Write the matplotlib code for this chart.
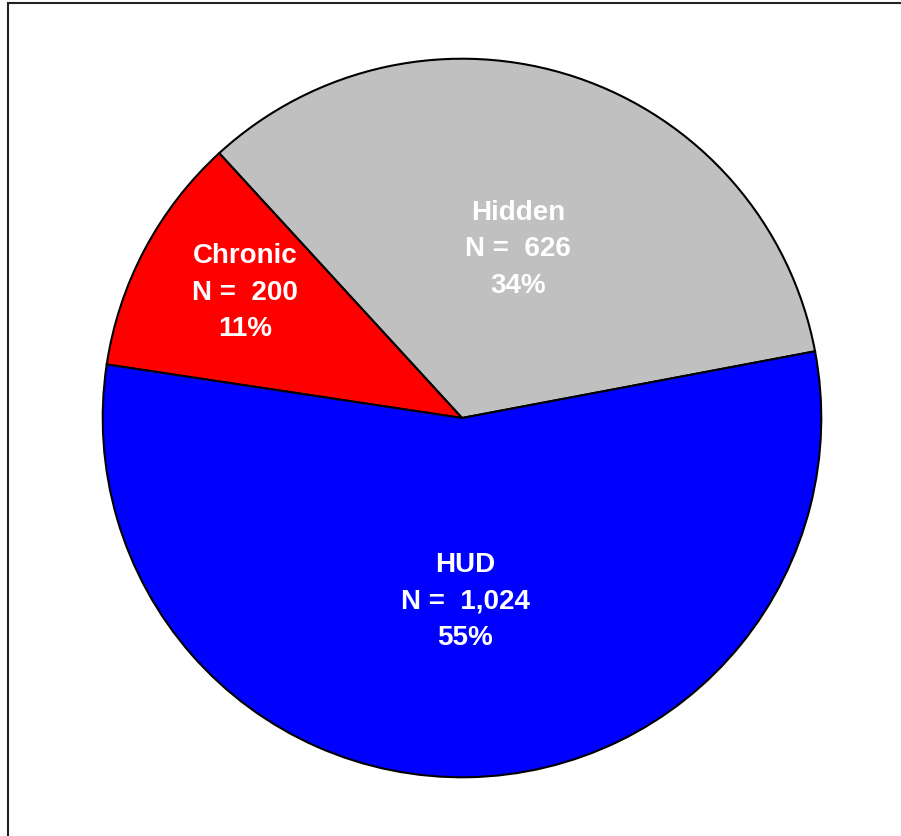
import numpy as np
import matplotlib
matplotlib.use("Agg")
import matplotlib.pyplot as plt
from matplotlib.patches import Rectangle

categories = ["Hidden", "Chronic", "HUD"]
counts = [626, 200, 1024]
percents = [34, 11, 55]
colors = ["#C0C0C0", "#FF0000", "#0000FF"]
label_radius = [0.495, 0.697, 0.51]
label_angle_shift = [0.0, -2.0, 0.0]

W, H = 901, 836
fig = plt.figure(figsize=(W / 100, H / 100), dpi=100)
fig.patch.set_facecolor("white")

cx, cy, R = 462, 418, 360
ax = fig.add_axes([(cx - R) / W, (H - cy - R) / H, 2 * R / W, 2 * R / H])
ax.axis("off")

wedges, _ = ax.pie(counts, colors=colors, startangle=10.7, counterclock=True,
                   radius=1.0, center=(0, 0),
                   wedgeprops=dict(edgecolor="black", linewidth=1.5))
ax.set_xlim(-1.002, 1.002)
ax.set_ylim(-1.002, 1.002)

line_step = 36.5 / R
for w, name, n, p, rf, da in zip(wedges, categories, counts, percents,
                                 label_radius, label_angle_shift):
    mid = np.deg2rad((w.theta1 + w.theta2) / 2 + da)
    x, y = rf * np.cos(mid), rf * np.sin(mid)
    lines = [name, f"N =  {n:,}", f"{p}%"]
    for i, t in enumerate(lines):
        ax.text(x, y + (1 - i) * line_step, t, ha="center", va="center",
                color="white", fontsize=20, fontweight="bold",
                family=["Liberation Sans", "DejaVu Sans"])

fig.patches.append(Rectangle((8 / W, -0.05), 1.2, (H - 3) / H + 0.05,
                             transform=fig.transFigure, fill=False,
                             edgecolor="#222222", linewidth=1.5))

fig.savefig("out.png", dpi=100)
